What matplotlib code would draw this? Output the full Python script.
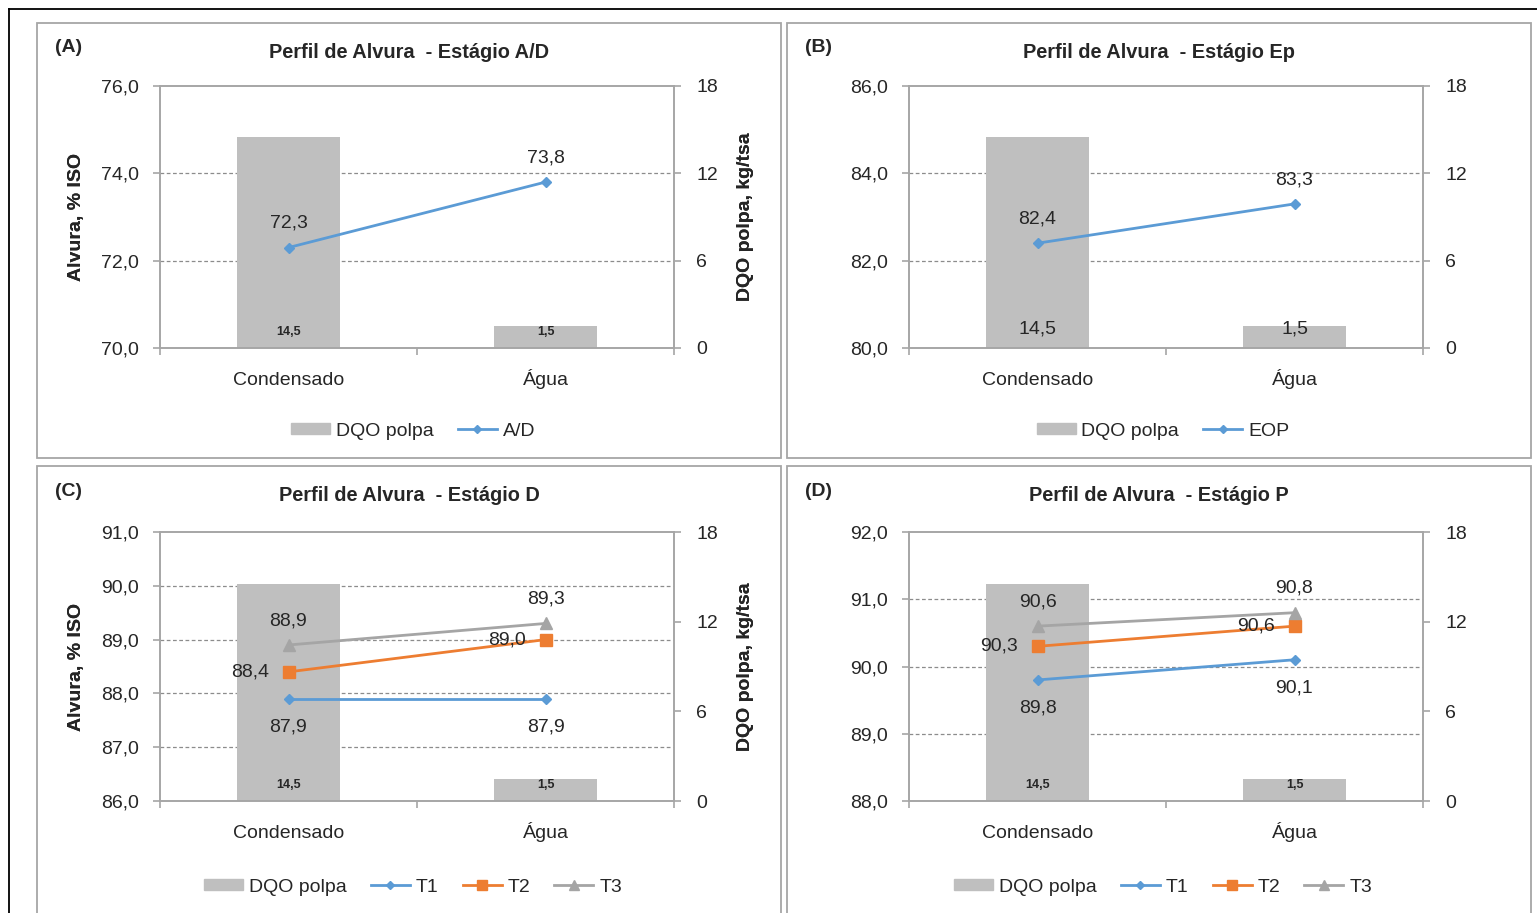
import numpy as np
import matplotlib.pyplot as plt
from matplotlib.patches import Rectangle, Patch
from matplotlib.lines import Line2D
from matplotlib.ticker import FixedLocator, FuncFormatter, NullFormatter
from matplotlib.transforms import blended_transform_factory

plt.rcParams['font.family'] = ['Liberation Sans', 'DejaVu Sans']

# dados
categorias = ['Condensado', 'Água']
dqo_polpa = [14.5, 1.5]          # kg/tsa
alvura_ad = [72.3, 73.8]         # % ISO
alvura_ep = [82.4, 83.3]
alvura_d_t1 = [87.9, 87.9]
alvura_d_t2 = [88.4, 89.0]
alvura_d_t3 = [88.9, 89.3]
alvura_p_t1 = [89.8, 90.1]
alvura_p_t2 = [90.3, 90.6]
alvura_p_t3 = [90.6, 90.8]

W, H = 1537, 913
fig = plt.figure(figsize=(W / 100, H / 100), dpi=100)

AZUL = '#5B9BD5'
LARANJA = '#ED7D31'
CINZA = '#A5A5A5'
BARRA = '#BFBFBF'
EIXO = '#A6A6A6'
TEXTO = '#262626'
FS = 14


def fx(x):
    return x / W


def fy(y):
    return 1 - y / H


def virgula(v, casas=1):
    return f'{v:.{casas}f}'.replace('.', ',')


def painel(moldura, area, letra, titulo, ylim, passo, series, fs_barra, peso_barra,
           dy_barra):
    ml, mt, mr, mb = moldura
    fig.patches.append(Rectangle((fx(ml), fy(mb)), fx(mr - ml), (mb - mt) / H,
                                 transform=fig.transFigure, fill=False,
                                 ec=EIXO, lw=1.3))
    cx = (ml + mr) / 2
    fig.text(fx(ml + 18), fy(mt + 25), letra, fontsize=FS, fontweight='bold',
             color=TEXTO, va='center', ha='left')
    fig.text(fx(cx), fy(mt + 29), titulo, fontsize=14.4, fontweight='bold',
             color=TEXTO, va='center', ha='center')

    l, t, r, b = area
    ax = fig.add_axes([fx(l), fy(b), fx(r - l), (b - t) / H])
    ax2 = ax.twinx()
    ax.set_zorder(2)
    ax.patch.set_visible(False)

    x = np.arange(len(categorias))
    ax.set_xlim(-0.5, 1.5)
    ax.set_ylim(*ylim)
    ax2.set_ylim(0, 18)

    # barras no eixo secundario
    ax2.bar(x, dqo_polpa, width=0.4, color=BARRA, zorder=2)
    for xi, v in zip(x, dqo_polpa):
        ax2.annotate(virgula(v), (xi, 0), xytext=(0, dy_barra),
                     textcoords='offset points', ha='center', va='center',
                     fontsize=fs_barra, fontweight=peso_barra, color=TEXTO)

    # linhas de grade tracejadas
    ticks = np.arange(ylim[0], ylim[1] + passo / 2, passo)
    tr = blended_transform_factory(ax2.transAxes, ax.transData)
    for v in ticks[1:-1]:
        ax2.plot([0, 1], [v, v], transform=tr, color='#8C8C8C', lw=0.9,
                 ls=(0, (3, 2)), zorder=1)

    desloc = {'acima': (0, 17.5, 'center'), 'abaixo': (0, -20, 'center'),
              'esquerda': (-14, 0, 'right')}
    handles = [Patch(color=BARRA, label='DQO polpa')]
    for nome, valores, cor, marcador, ms in series[0]:
        ax.plot(x, valores, color=cor, lw=2.0, marker=marcador, ms=ms, zorder=3)
        handles.append(Line2D([], [], color=cor, lw=2.0, marker=marcador,
                              ms=ms * 0.85, label=nome))
    for (nome, valores, cor, marcador, ms), pos in zip(series[0], series[1]):
        for xi, v, p in zip(x, valores, pos):
            dx, dy, ha = desloc[p]
            ax.annotate(virgula(v), (xi, v), xytext=(dx, dy),
                        textcoords='offset points', ha=ha, va='center',
                        fontsize=FS, color=TEXTO, zorder=4)

    # eixos
    for s in ['left', 'top', 'bottom']:
        ax.spines[s].set_color(EIXO)
        ax.spines[s].set_linewidth(1.4)
    ax.spines['right'].set_visible(False)
    for s in ['left', 'top', 'bottom']:
        ax2.spines[s].set_visible(False)
    ax2.spines['right'].set_color(EIXO)
    ax2.spines['right'].set_linewidth(1.4)

    ax.yaxis.set_major_locator(FixedLocator(ticks))
    ax.yaxis.set_major_formatter(FuncFormatter(lambda v, _: virgula(v)))
    ax2.yaxis.set_major_locator(FixedLocator([0, 6, 12, 18]))
    ax2.yaxis.set_major_formatter(FuncFormatter(lambda v, _: f'{v:.0f}'))
    ax.tick_params(axis='y', direction='out', length=5, width=1.2, color=EIXO,
                   labelsize=FS, labelcolor=TEXTO, pad=10)
    ax2.tick_params(axis='y', direction='out', length=5, width=1.2, color=EIXO,
                    labelsize=FS, labelcolor=TEXTO, pad=11)

    ax.xaxis.set_major_locator(FixedLocator([-0.5, 0.5, 1.5]))
    ax.xaxis.set_major_formatter(NullFormatter())
    ax.xaxis.set_minor_locator(FixedLocator(x))
    ax.xaxis.set_minor_formatter(FuncFormatter(lambda v, i: categorias[int(round(v))]))
    ax.tick_params(axis='x', which='major', direction='out', length=5, width=1.2,
                   color=EIXO)
    ax.tick_params(axis='x', which='minor', length=0, labelsize=FS,
                   labelcolor=TEXTO, pad=26.5)
    for rot in ax.xaxis.get_minorticklabels():
        rot.set_va('baseline')

    ax.set_ylabel('Alvura, % ISO', fontsize=FS, fontweight='bold', color=TEXTO,
                  va='center')
    ax.yaxis.set_label_coords((76 - l) / (r - l), 0.5)
    ax2.set_ylabel('DQO polpa, kg/tsa', fontsize=FS, fontweight='bold',
                   color=TEXTO, va='center', rotation=90)
    ax2.yaxis.set_label_coords((745 - l) / (r - l), 0.5)

    y_leg = mt + (408 if mt < 100 else 421)
    fig.legend(handles=handles, loc='center', bbox_to_anchor=(fx(cx + 4), fy(y_leg)),
               ncol=len(handles), frameon=False, fontsize=FS, handlelength=2.0,
               handletextpad=0.3, columnspacing=1.25, handleheight=0.55,
               labelcolor=TEXTO)


painel((37, 23, 781, 458), (160, 86, 674, 348), '(A)',
       'Perfil de Alvura  - Estágio A/D', (70, 76), 2.0,
       ([('A/D', alvura_ad, AZUL, 'D', 5)], [['acima', 'acima']]),
       9, 'bold', 11.5)

painel((787, 23, 1531, 458), (909, 86, 1423, 348), '(B)',
       'Perfil de Alvura  - Estágio Ep', (80, 86), 2.0,
       ([('EOP', alvura_ep, AZUL, 'D', 5)], [['acima', 'acima']]),
       FS, 'normal', 14)

painel((37, 466, 781, 930), (160, 532, 674, 801), '(C)',
       'Perfil de Alvura  - Estágio D', (86, 91), 1.0,
       ([('T1', alvura_d_t1, AZUL, 'D', 5),
         ('T2', alvura_d_t2, LARANJA, 's', 8),
         ('T3', alvura_d_t3, CINZA, '^', 8)],
        [['abaixo', 'abaixo'], ['esquerda', 'esquerda'], ['acima', 'acima']]),
       9, 'bold', 11.5)

painel((787, 466, 1531, 930), (909, 532, 1423, 801), '(D)',
       'Perfil de Alvura  - Estágio P', (88, 92), 1.0,
       ([('T1', alvura_p_t1, AZUL, 'D', 5),
         ('T2', alvura_p_t2, LARANJA, 's', 8),
         ('T3', alvura_p_t3, CINZA, '^', 8)],
        [['abaixo', 'abaixo'], ['esquerda', 'esquerda'], ['acima', 'acima']]),
       9, 'bold', 11.5)

# moldura externa
fig.add_artist(Line2D([fx(9), fx(W)], [fy(9), fy(9)], color='black', lw=1.3))
fig.add_artist(Line2D([fx(9), fx(9)], [fy(9), fy(H)], color='black', lw=1.3))

fig.savefig('out.png', dpi=100)
